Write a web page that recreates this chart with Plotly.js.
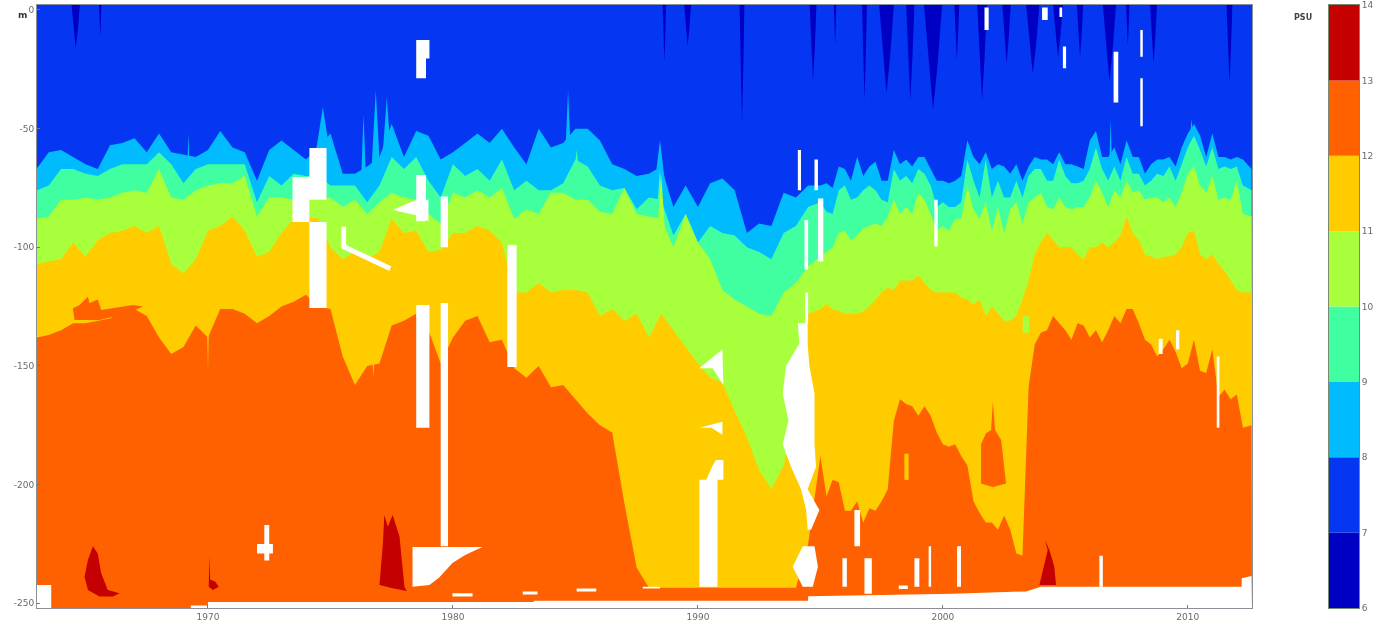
<!DOCTYPE html>
<html>
<head>
<meta charset="utf-8">
<script src="https://cdn.plot.ly/plotly-3.0.1.min.js"></script>
<style>html,body{margin:0;padding:0;background:#fff;overflow:hidden}#chart{width:1388px;height:625px;filter:blur(0.6px)}</style>
</head>
<body>
<div id="chart"></div>
<script>
// Sampling times (years): half-yearly to 1994.5, quarterly afterwards
const years = [
1963,1963.5,1964,1964.5,1965,1965.5,1966,1966.5,1967,1967.5,
1968,1968.5,1969,1969.5,1970,1970.5,1971,1971.5,1972,1972.5,
1973,1973.5,1974,1974.5,1975,1975.5,1976,1976.5,1977,1977.5,
1978,1978.5,1979,1979.5,1980,1980.5,1981,1981.5,1982,1982.5,
1983,1983.5,1984,1984.5,1985,1985.5,1986,1986.5,1987,1987.5,
1988,1988.5,1989,1989.5,1990,1990.5,1991,1991.5,1992,1992.5,
1993,1993.5,1994,1994.5,
1995,1995.25,1995.5,1995.75,1996,1996.25,1996.5,1996.75,1997,1997.25,
1997.5,1997.75,1998,1998.25,1998.5,1998.75,1999,1999.25,1999.5,1999.75,
2000,2000.25,2000.5,2000.75,2001,2001.25,2001.5,2001.75,2002,2002.25,
2002.5,2002.75,2003,2003.25,2003.5,2003.75,2004,2004.25,2004.5,2004.75,
2005,2005.25,2005.5,2005.75,2006,2006.25,2006.5,2006.75,2007,2007.25,
2007.5,2007.75,2008,2008.25,2008.5,2008.75,2009,2009.25,2009.5,2009.75,
2010,2010.25,2010.5,2010.75,2011,2011.25,2011.5,2011.75,2012,2012.25,2012.6];

// Depth (m) of each salinity surface, PSU
const iso8 = [
-67,-60,-59,-62,-65,-67,-57,-56,-54,-60,
-52,-60,-61,-62,-59,-51,-58,-60,-72,-59,
-55,-59,-63,-58,-52,-69,-69,-66,-62,-48,
-62,-51,-53,-63,-60,-56,-52,-56,-50,-58,
-65,-50,-58,-56,-50,-50,-55,-65,-67,-70,
-69,-66,-83,-74,-83,-73,-71,-76,-94,-90,
-91,-77,-79,-74,
-74,-73,-75,-66,-67,-72,-62,-70,-66,-64,
-72,-72,-59,-65,-63,-66,-62,-62,-67,-72,
-72,-73,-72,-70,-55,-62,-65,-60,-67,-65,
-66,-69,-65,-72,-66,-62,-63,-63,-65,-60,
-65,-65,-66,-67,-55,-51,-62,-62,-58,-65,
-55,-62,-62,-69,-65,-63,-63,-62,-66,-58,
-52,-48,-53,-62,-52,-62,-62,-63,-62,-63,-67];
const iso9 = [
-76,-74,-67,-67,-69,-70,-67,-65,-65,-65,
-60,-65,-73,-67,-65,-65,-65,-65,-81,-70,
-74,-69,-70,-70,-74,-74,-74,-81,-74,-62,
-67,-62,-72,-79,-65,-70,-67,-72,-63,-76,
-72,-76,-76,-73,-63,-66,-74,-76,-75,-84,
-79,-80,-95,-86,-98,-91,-94,-95,-100,-102,
-105,-94,-91,-83,
-81,-85,-86,-76,-74,-80,-79,-76,-74,-76,
-80,-81,-67,-72,-70,-73,-67,-69,-74,-83,
-81,-83,-83,-81,-63,-72,-79,-63,-79,-72,
-79,-79,-72,-79,-70,-67,-67,-72,-72,-63,
-70,-73,-73,-72,-67,-58,-67,-72,-66,-72,
-62,-69,-69,-74,-72,-69,-70,-66,-72,-65,
-58,-53,-59,-66,-58,-67,-66,-67,-66,-74,-76];
const iso10 = [
-88,-87,-80,-80,-79,-80,-79,-77,-76,-77,
-67,-79,-80,-76,-74,-73,-73,-70,-87,-79,
-79,-80,-80,-80,-79,-83,-80,-86,-81,-77,
-79,-80,-86,-90,-77,-79,-76,-79,-75,-88,
-84,-86,-77,-77,-80,-80,-85,-86,-75,-86,
-87,-88,-100,-86,-98,-105,-118,-122,-125,-128,
-129,-119,-115,-108,
-104,-102,-100,-94,-93,-97,-95,-92,-91,-90,
-91,-87,-80,-86,-83,-86,-77,-80,-86,-93,
-91,-93,-88,-88,-74,-84,-88,-81,-93,-83,
-94,-84,-81,-90,-81,-79,-77,-83,-84,-79,
-83,-84,-83,-83,-79,-72,-77,-83,-76,-79,
-72,-77,-76,-80,-79,-79,-81,-79,-83,-77,
-69,-66,-74,-77,-70,-80,-79,-80,-72,-86,-87];
const iso11 = [
-107,-106,-105,-98,-104,-97,-94,-93,-91,-94,
-91,-107,-111,-105,-93,-91,-87,-93,-104,-102,
-94,-88,-87,-88,-100,-105,-102,-105,-102,-88,
-94,-93,-102,-101,-94,-94,-91,-93,-98,-119,
-119,-115,-119,-118,-118,-119,-129,-126,-131,-128,
-138,-128,-135,-142,-149,-155,-157,-169,-180,-194,
-202,-192,-170,-128,
-126,-124,-126,-127,-128,-128,-128,-127,-125,-122,
-119,-117,-118,-114,-114,-114,-112,-115,-118,-119,
-119,-119,-119,-121,-122,-124,-122,-129,-125,-128,
-131,-131,-129,-122,-114,-103,-98,-94,-97,-100,
-100,-100,-103,-105,-100,-100,-98,-100,-98,-95,
-87,-94,-97,-103,-104,-105,-104,-104,-103,-100,
-94,-93,-103,-105,-103,-107,-110,-114,-118,-119,-119];
const iso12 = [
-138,-137,-135,-132,-132,-131,-130,-127,-126,-129,
-138,-145,-142,-133,-138,-126,-126,-128,-132,-129,
-125,-123,-120,-125,-126,-146,-158,-150,-149,-133,
-131,-128,-135,-149,-138,-131,-129,-140,-139,-151,
-155,-150,-159,-158,-164,-170,-175,-178,-208,-235,
-243.5,-243.5,-243.5,-243.5,-243.5,-243.5,-243.5,-243.5,-243.5,-243.5,
-243.5,-243.5,-243.5,-225,
-188,-205,-198,-199,-211,-211,-207,-216,-210,-211,
-207,-202,-173,-164,-166,-167,-171,-167,-171,-178,
-183,-184,-183,-188,-192,-207,-212,-216,-216,-219,
-213,-219,-229,-230,-159,-141,-136,-135,-129,-132,
-135,-139,-132,-133,-138,-135,-140,-135,-129,-132,
-126,-126,-132,-139,-141,-146,-143,-139,-144,-151,
-149,-139,-152,-153,-143,-163,-160,-164,-162,-176,-175];

// Narrow spikes of a class reaching past its surface: year, half width, tip depth, base depth
const spike8Years = [1969.2,1974.69,1976.35,1976.85,1977.3,1984.7,1988.45,2006.85,2010.15];
const spike8Half  = [0.04,0.35,0.1,0.2,0.25,0.1,0.2,0.05,0.1];
const spike8Tip   = [-52,-41,-44,-34,-37,-34,-55,-46,-46];
const spike8Base  = [-64,-64,-72,-72,-72,-58,-72,-64,-58];
const spike9Years = [1985.05,1988.45];
const spike9Half  = [0.12,0.12];
const spike9Tip   = [-59,-67];
const spike9Base  = [-70,-85];
const spike10Years = [1988.5];
const spike10Half  = [0.15];
const spike10Tip   = [-69];
const spike10Base  = [-92];
const spike11Years = [1970,1976.75];
const spike11Half  = [0.05,0.1];
const spike11Tip   = [-152,-155];
const spike11Base  = [-128,-135];

// Fresh surface tongues (below 7 PSU): centre year, half width, depth
const lowYears  = [1964.6,1965.6,1988.63,1989.58,1991.8,1994.7,1995.6,1996.8,1997.7,1998.67,1999.6,2000.57,2001.6,2002.6,2003.67,2004.7,2005.6,2006.8,2007.55,2008.6,2011.7];
const lowHalf   = [0.17,0.05,0.07,0.14,0.1,0.14,0.05,0.1,0.3,0.17,0.37,0.1,0.2,0.17,0.27,0.2,0.13,0.27,0.07,0.14,0.12];
const lowDepths = [-16,-11,-22,-15,-48,-30,-15,-38,-35,-38,-42,-21,-38,-22.5,-27,-20,-20,-30,-15,-22.5,-31];

// Saline pockets above 13 PSU
const highYears = [
 [1965.3,1965.5,1965.64,1965.91,1966.39,1966.12,1965.57,1965.1,1964.96,1965.1],
 [1970.06,1970.09,1970.3,1970.44,1970.2,1970.03],
 [1977.2,1977.34,1977.54,1977.82,1978.02,1978.12,1977.54,1977,1977.14],
 [2004.17,2004.35,2004.55,2004.62,2003.94,2004.14,2004.28]];
const highDepths = [
 [-226,-229,-237.4,-244.4,-245.8,-247.2,-247.2,-244.4,-238.8,-231.8],
 [-230,-240,-240.9,-243,-244.4,-243],
 [-212.8,-217.7,-212.8,-222,-243,-244.8,-243.7,-242.3,-224.8],
 [-223.4,-227.6,-234.6,-242.3,-242.3,-233.2,-227.6]];

// Extra patches of individual salinity classes
const patch12Years = [
 [1964.55,1964.48,1964.76,1965.1,1965.16,1965.5,1965.64,1966.93,1967.34,1966.73,1965.57],
 [2001.56,2001.76,2001.97,2002.04,2002.13,2002.38,2002.58,2002.04,2001.56]];
const patch12Depths = [
 [-130.6,-125.7,-124.3,-120.8,-123.6,-122,-126.4,-124.3,-125,-127.8,-130.6],
 [-183,-178.4,-177,-165,-177,-181.2,-199.5,-201,-199.5]];
const patch11Rects = [[1998.43,1998.6,-187,-198]];
const patch10Rects = [[2003.26,2003.53,-129,-136]];

// Missing data: rectangles [year0, year1, depth0, depth1]
const gapRects = [
 [1974.14,1974.84,-58.2,-80],[1973.45,1974.14,-70.4,-89.3],[1974.14,1974.84,-89.3,-125.6],
 [1978.5,1979.04,-12.6,-20.4],[1978.5,1978.9,-20.4,-28.8],
 [1978.5,1978.9,-69.5,-89],[1979.5,1979.8,-78.6,-100],[1979.5,1979.8,-123.5,-226],
 [1978.5,1979.04,-124.3,-176],[1982.22,1982.6,-99,-150.4],
 [1972.3,1972.5,-217,-232],[1972,1972.65,-225,-229],[1963,1963.6,-242.3,-252],
 [1979.98,1980.8,-245.8,-247.2],[1982.85,1983.45,-245,-246.3],[1985.05,1985.85,-243.8,-245],[1987.75,1988.45,-243,-243.8],
 [1994.08,1994.21,-59,-76],[1994.76,1994.9,-63,-76],[1994.35,1994.5,-88.5,-109.5],[1994.9,1995.12,-79.4,-106],[1994.38,1994.5,-119,-132],
 [1995.9,1996.08,-231,-243],[1996.8,1997.1,-231,-246],[1996.39,1996.62,-210.7,-226],
 [1998.84,1999.04,-231,-243],[1999.42,1999.52,-226,-243],[2000.58,2000.74,-226,-243],
 [1998.2,1998.57,-242.5,-244],[2006.39,2006.53,-230,-243],[2011.18,2011.29,-146,-176],
 [2009.52,2009.65,-135,-143],[2008.81,2008.97,-138.5,-145],
 [2001.7,2001.87,1,-8.4],[2004.05,2004.28,1,-4.2],[2004.76,2004.87,1,-3],[2004.9,2005.03,-15.4,-24.6],
 [2006.97,2007.16,-17.6,-39],[2008.06,2008.16,-8.4,-19.7],[2008.06,2008.16,-28.8,-49],[1999.65,1999.79,-80,-99.7]];

// Missing data: irregular outlines
const gapYears = [
 [1975.44,1975.64,1975.64,1977.48,1977.41,1975.44],
 [1977.54,1978.5,1979,1979,1978.5],
 [1978.35,1981.2,1980.5,1979.98,1979.45,1979.04,1978.35],
 [1990.06,1990.34,1990.47,1990.6,1990.74,1991.04,1991.04,1990.8,1990.8,1990.06],
 [1990.06,1991,1991.04,1990.6],
 [1990.06,1991,1991,1990.55],
 [1994.08,1994.14,1993.6,1993.46,1993.7,1993.46,1993.8,1994.21,1994.42,1994.48,1994.62,1994.96,1994.48,1994.82,1994.76,1994.76,1994.76,1994.55,1994.48,1994.48],
 [1994.28,1994.76,1994.9,1994.69,1994.28,1993.87],
 [2008.97,2009.18,2009.05,2008.97]];
const gapDepths = [
 [-91.3,-91.3,-99,-108,-110,-100.4],
 [-84.3,-80,-80,-89,-86.5],
 [-226.3,-226.3,-229.7,-233,-239,-242.3,-243],
 [-198,-198,-195,-192,-189.6,-189.6,-198,-198,-243,-243],
 [-151,-143,-158,-151],
 [-176,-173.5,-179,-176],
 [-132,-140.5,-150,-161.6,-173,-183,-192.5,-202,-210.7,-219,-219,-210.7,-202,-192.5,-183,-173,-161.6,-150,-140.5,-132],
 [-226,-226,-234.6,-243,-243,-234.6],
 [-243,-236,-240,-243]];

// Lower edge of the sampled column
const floorYears  = [1963,1969.3,1969.3,1970,1970,1983.3,1983.3,1994.5,1994.5,1997.4,2000.4,2003.4,2004,2012.2,2012.2,2012.6];
const floorDepths = [-252,-252,-250.9,-250.9,-249.5,-249.5,-248.9,-248.9,-247,-246.5,-246,-245,-243,-243,-239.5,-238.5];

const colorLevels = [6,7,8,9,10,11,12,13];
const bandColors  = ['#0000c4','#0537f2','#00bcff','#40ffa0','#a8ff3c','#ffcc00','#ff6000','#c40000'];
const yTickValues = [0,-50,-100,-150,-200,-250];
const yTickLabels = ['0','-50','-100','-150','-200','-250'];
const xTickValues = [1970,1980,1990,2000,2010];
const psuTicks    = [6,7,8,9,10,11,12,13,14];

const TOP = 2.1, BOTTOM = -252, LEFT = 1963.02, RIGHT = 2012.62;

function area(boundary, color) {
  return {type:'scatter', mode:'lines', x:[...years, RIGHT, years[0]], y:[...boundary, BOTTOM, BOTTOM],
          fill:'toself', fillcolor:color, line:{width:0}, hoverinfo:'skip', showlegend:false};
}
function polys(xs, ys, color) {
  const x = [], y = [];
  xs.forEach((a, i) => { x.push(...a, a[0], null); y.push(...ys[i], ys[i][0], null); });
  return {type:'scatter', mode:'lines', x, y, fill:'toself', fillcolor:color, line:{width:0}, hoverinfo:'skip', showlegend:false};
}
function rects(list, color) {
  return polys(list.map(r => [r[0], r[1], r[1], r[0]]), list.map(r => [r[2], r[2], r[3], r[3]]), color);
}
function spikes(ys, half, tip, base, color) {
  return polys(ys.map((c, i) => [c - half[i], c, c + half[i]]), ys.map((c, i) => [base[i], tip[i], base[i]]), color);
}
const topX = [LEFT - 0.02, RIGHT, RIGHT, LEFT - 0.02], topY = [TOP, TOP, BOTTOM, BOTTOM];

const lowX = [], lowY = [];
lowYears.forEach((c, i) => {
  lowX.push([c - lowHalf[i], c + lowHalf[i], c + lowHalf[i] * 0.5, c]);
  lowY.push([TOP, TOP, lowDepths[i] * 0.55, lowDepths[i]]);
});

const traces = [
  polys([topX], [topY], bandColors[1]),
  polys(lowX, lowY, bandColors[0]),
  area(iso8, bandColors[2]),
  spikes(spike8Years, spike8Half, spike8Tip, spike8Base, bandColors[2]),
  area(iso9, bandColors[3]),
  spikes(spike9Years, spike9Half, spike9Tip, spike9Base, bandColors[3]),
  area(iso10, bandColors[4]),
  spikes(spike10Years, spike10Half, spike10Tip, spike10Base, bandColors[4]),
  area(iso11, bandColors[5]),
  area(iso12, bandColors[6]),
  spikes(spike11Years, spike11Half, spike11Tip, spike11Base, bandColors[5]),
  polys(patch12Years, patch12Depths, bandColors[6]),
  rects(patch11Rects, bandColors[5]),
  rects(patch10Rects, bandColors[4]),
  polys(highYears, highDepths, bandColors[7]),
  polys(gapYears, gapDepths, '#ffffff'),
  rects(gapRects, '#ffffff'),
  {type:'scatter', mode:'lines', x:[...floorYears, RIGHT, LEFT - 0.02], y:[...floorDepths, BOTTOM - 1, BOTTOM - 1],
   fill:'toself', fillcolor:'#ffffff', line:{width:0}, hoverinfo:'skip', showlegend:false},
  {type:'bar', x:colorLevels.map(() => 0), y:colorLevels.map(() => 1), base:colorLevels, width:1,
   marker:{color:bandColors, line:{width:0}}, xaxis:'x2', yaxis:'y2', hoverinfo:'skip', showlegend:false}
];

const tickFont = {family:'"DejaVu Sans", sans-serif', size:9, color:'#6a6a6a'};
const W = 1388, H = 625, L = 37, R = 29, T = 5, B = 17;
const PW = W - L - R, PH = H - T - B;
const layout = {
  width:W, height:H, margin:{l:L, r:R, t:T, b:B, pad:0},
  paper_bgcolor:'#ffffff', plot_bgcolor:'#ffffff', showlegend:false, barmode:'overlay',
  xaxis:{domain:[0,(1252-L)/PW], range:[LEFT,RIGHT], tickmode:'array', tickvals:xTickValues, ticktext:xTickValues.map(String),
         ticks:'inside', ticklen:3, tickcolor:'#777', showgrid:false, zeroline:false, showline:true, linecolor:'#8a8f98', linewidth:1, mirror:true, tickfont:tickFont},
  yaxis:{range:[BOTTOM,TOP], tickmode:'array', tickvals:yTickValues, ticktext:yTickLabels,
         ticks:'inside', ticklen:3, tickcolor:'#777', showgrid:false, zeroline:false, showline:true, linecolor:'#8a8f98', linewidth:1, mirror:true, tickfont:tickFont},
  xaxis2:{domain:[(1329-L)/PW,1], anchor:'y2', range:[-0.5,0.5], showticklabels:false, ticks:'', showgrid:false, zeroline:false, showline:true, linecolor:'#7a8a70', mirror:true},
  yaxis2:{anchor:'x2', side:'right', range:[6,14], tickmode:'array', tickvals:psuTicks, ticktext:psuTicks.map(String),
          ticks:'', showgrid:false, zeroline:false, showline:true, linecolor:'#7a8a70', mirror:true, tickfont:tickFont},
  annotations:[
    {text:'<b>m</b>', xref:'paper', yref:'paper', x:(16-L)/PW, y:1-(8-T)/PH, showarrow:false, font:{family:'"DejaVu Sans", sans-serif', size:9, color:'#333'}},
    {text:'<b>PSU</b>', xref:'paper', yref:'paper', x:(1314-L)/PW, y:1-(11-T)/PH, showarrow:false, font:{family:'"DejaVu Sans", sans-serif', size:8, color:'#444'}}
  ]
};
Plotly.newPlot('chart', traces, layout, {staticPlot:true, displayModeBar:false});
</script>
</body>
</html>
